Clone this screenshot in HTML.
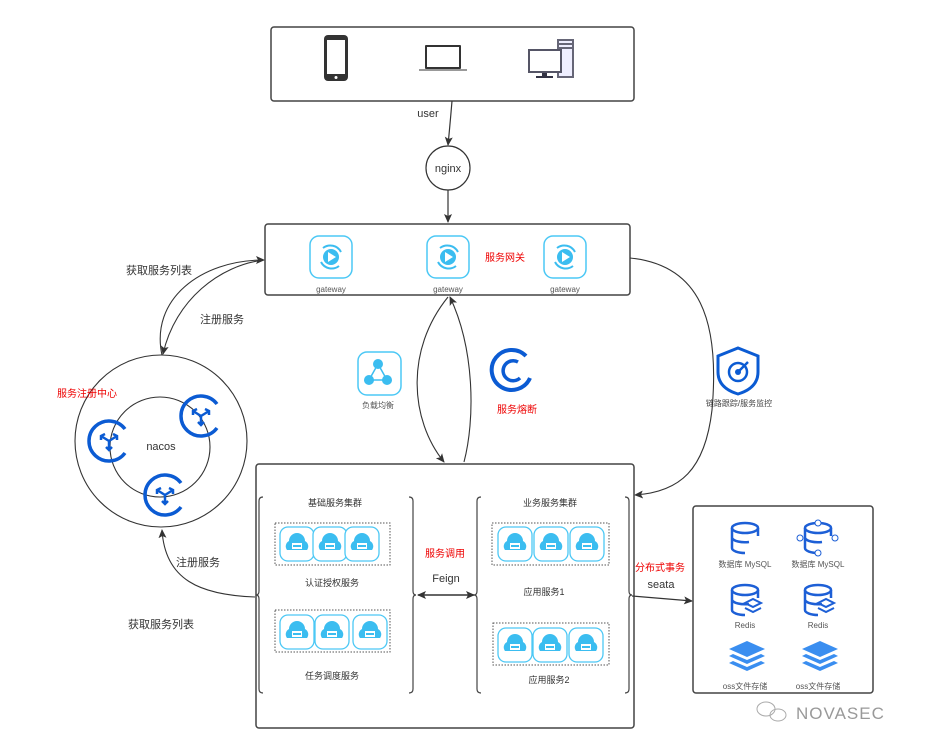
<!DOCTYPE html>
<html><head><meta charset="utf-8"><style>
body{margin:0;background:#fff}
text{font-family:"Liberation Sans","Noto Sans CJK SC",sans-serif}
</style></head><body>
<svg width="928" height="749" viewBox="0 0 928 749" xmlns="http://www.w3.org/2000/svg">
<defs>
<marker id="ar" markerWidth="10" markerHeight="10" refX="8" refY="5" orient="auto" markerUnits="userSpaceOnUse"><path d="M0,1 L9,5 L0,9 L2,5 Z" fill="#333"/></marker>
<marker id="al" markerWidth="10" markerHeight="10" refX="2" refY="5" orient="auto" markerUnits="userSpaceOnUse"><path d="M10,1 L1,5 L10,9 L8,5 Z" fill="#333"/></marker>
<g id="gw"><rect x="-21" y="-21" width="42" height="42" rx="9" fill="#fff" stroke="#4cc8f5" stroke-width="1.5"/><path d="M-8,-9 A12,12 0 0 1 10,-5 M8,9 A12,12 0 0 1 -10,5" fill="none" stroke="#3bbdf0" stroke-width="2"/><circle r="8" fill="#3bbdf0"/><path d="M-3,-5 L5,0 L-3,5Z" fill="#fff"/></g>
<g id="cl"><rect x="-17" y="-17" width="34" height="34" rx="8" fill="#fff" stroke="#4cc8f5" stroke-width="1.3"/><path d="M-10,6 A6,6 0 0 1 -8,-3 A8,8 0 0 1 8,-3 A6,6 0 0 1 10,6Z" fill="#3bbdf0"/><rect x="-5" y="-1" width="10" height="6" fill="#fff"/><rect x="-4" y="1" width="8" height="2" fill="#3bbdf0"/></g>
<g id="nc"><path d="M16,-12 A20,20 0 1 0 16,12" fill="none" stroke="#0b5bd3" stroke-width="3.5"/><path d="M0,0 L0,9 M0,0 L-8,-5 M0,0 L8,-5 M-3,6 L0,9 L3,6 M-8,-1 L-8,-5 L-4,-7 M8,-1 L8,-5 L4,-7" stroke="#0b5bd3" stroke-width="2.5" fill="none"/></g>
<g id="db"><ellipse cx="0" cy="-10" rx="13" ry="5" fill="none" stroke="#1d5fd6" stroke-width="2.5"/><path d="M-13,-10 V10 A13,5 0 0 0 0,15 M13,-10 V-2 M-13,0 A13,5 0 0 0 4,4" fill="none" stroke="#1d5fd6" stroke-width="2.5"/></g>
<g id="ly"><path d="M0,-16 L18,-8 L0,0 L-18,-8Z" fill="#3a8ef0"/><path d="M-18,-1 L0,7 L18,-1 L14,-3 L0,3 L-14,-3Z" fill="#3a8ef0"/><path d="M-18,6 L0,14 L18,6 L14,4 L0,10 L-14,4Z" fill="#3a8ef0"/></g>
</defs>

<!-- top user box -->
<rect x="271" y="27" width="363" height="74" rx="3" fill="#fff" stroke="#444" stroke-width="1.5"/>
<rect x="324" y="35" width="24" height="46" rx="4" fill="#333"/><rect x="327" y="40" width="18" height="34" fill="#fff"/><circle cx="336" cy="77.5" r="1.5" fill="#fff"/>
<rect x="425" y="45" width="36" height="24" rx="1" fill="#333"/><rect x="427" y="47" width="32" height="20" fill="#fff"/><rect x="419" y="69" width="48" height="2" fill="#999"/>
<rect x="557" y="39" width="17" height="39" fill="#667"/><rect x="559" y="41" width="13" height="35" fill="#eef"/><rect x="559" y="43" width="13" height="2" fill="#667"/><rect x="559" y="47" width="13" height="2" fill="#667"/>
<rect x="528" y="49" width="34" height="24" fill="#556"/><rect x="530" y="51" width="30" height="20" fill="#fff"/><rect x="542" y="73" width="5" height="4" fill="#334"/><rect x="536" y="76" width="17" height="2" fill="#334"/>

<text x="428" y="117" font-size="11" fill="#333" text-anchor="middle">user</text>
<path d="M452,101 Q450,125 448,145" fill="none" stroke="#333" stroke-width="1.2" marker-end="url(#ar)"/>
<circle cx="448" cy="168" r="22" fill="#fff" stroke="#333" stroke-width="1.2"/>
<text x="448" y="172" font-size="11" fill="#333" text-anchor="middle">nginx</text>
<path d="M448,190 L448,222" stroke="#333" stroke-width="1.2" marker-end="url(#ar)"/>

<!-- gateway box -->
<rect x="265" y="224" width="365" height="71" rx="3" fill="#fff" stroke="#444" stroke-width="1.5"/>
<use href="#gw" x="331" y="257"/><use href="#gw" x="448" y="257"/><use href="#gw" x="565" y="257"/>
<text x="331" y="292" font-size="8" fill="#555" text-anchor="middle">gateway</text>
<text x="448" y="292" font-size="8" fill="#555" text-anchor="middle">gateway</text>
<text x="565" y="292" font-size="8" fill="#555" text-anchor="middle">gateway</text>
<text x="505" y="261" font-size="10" fill="#e00" text-anchor="middle">服务网关</text>

<!-- left arcs -->
<path d="M162,355 C150,300 200,260 264,260" fill="none" stroke="#333" stroke-width="1.1" marker-end="url(#ar)"/>
<path d="M264,260 C220,265 175,300 163,354" fill="none" stroke="#333" stroke-width="1.1" marker-end="url(#ar)"/>
<text x="159" y="274" font-size="11" fill="#333" text-anchor="middle">获取服务列表</text>
<text x="222" y="323" font-size="11" fill="#333" text-anchor="middle">注册服务</text>

<!-- nacos -->
<circle cx="161" cy="441" r="86" fill="#fff" stroke="#333" stroke-width="1.1"/>
<circle cx="160" cy="447" r="50" fill="none" stroke="#333" stroke-width="1.1"/>
<text x="161" y="450" font-size="11" fill="#333" text-anchor="middle">nacos</text>
<text x="87" y="397" font-size="10" fill="#e00" text-anchor="middle">服务注册中心</text>
<use href="#nc" x="109" y="441"/><use href="#nc" x="201" y="416"/><use href="#nc" x="165" y="495"/>

<!-- bottom-left arrow -->
<path d="M255,597 C200,595 165,580 162,530" fill="none" stroke="#333" stroke-width="1.1" marker-end="url(#ar)"/>
<text x="198" y="566" font-size="11" fill="#333" text-anchor="middle">注册服务</text>
<text x="161" y="628" font-size="11" fill="#333" text-anchor="middle">获取服务列表</text>

<!-- middle icons -->
<rect x="358" y="352" width="43" height="43" rx="9" fill="#fff" stroke="#4cc8f5" stroke-width="1.5"/>
<circle cx="378" cy="364" r="5" fill="#3bbdf0"/><circle cx="369" cy="380" r="5" fill="#3bbdf0"/><circle cx="387" cy="380" r="5" fill="#3bbdf0"/><path d="M378,364 L369,380 L387,380Z" fill="none" stroke="#3bbdf0" stroke-width="1.5"/>
<text x="378" y="408" font-size="8" fill="#555" text-anchor="middle">负载均衡</text>
<path d="M526,356 A20,20 0 1 0 530,378" fill="none" stroke="#0b5bd3" stroke-width="4"/>
<path d="M518,362 A10,10 0 1 0 520,378" fill="none" stroke="#0b5bd3" stroke-width="3.5"/>
<text x="517" y="413" font-size="10" fill="#e00" text-anchor="middle">服务熔断</text>

<path d="M738,348 L758,356 L758,372 Q758,388 738,394 Q718,388 718,372 L718,356Z" fill="none" stroke="#0b5bd3" stroke-width="3"/>
<circle cx="738" cy="372" r="9" fill="none" stroke="#0b5bd3" stroke-width="2.5"/><circle cx="738" cy="372" r="3" fill="#0b5bd3"/><path d="M738,372 L748,362" stroke="#0b5bd3" stroke-width="2.5"/>
<text x="739" y="406" font-size="8" fill="#444" text-anchor="middle">链路跟踪/服务监控</text>

<!-- lens connectors -->
<path d="M448,297 C405,350 410,420 444,462" fill="none" stroke="#333" stroke-width="1.1" marker-end="url(#ar)"/>
<path d="M464,462 C475,420 475,350 450,297" fill="none" stroke="#333" stroke-width="1.1" marker-end="url(#ar)"/>

<!-- right curve -->
<path d="M630,258 C700,265 720,320 712,410 C705,470 680,492 635,495" fill="none" stroke="#333" stroke-width="1.1" marker-end="url(#ar)"/>

<!-- main box -->
<rect x="256" y="464" width="378" height="264" rx="3" fill="#fff" stroke="#444" stroke-width="1.5"/>
<path d="M263,497 Q259,497 259,501 V591 Q259,595 256,595 Q259,595 259,599 V689 Q259,693 263,693" fill="none" stroke="#444" stroke-width="1.2"/>
<path d="M409,497 Q413,497 413,501 V591 Q413,595 416,595 Q413,595 413,599 V689 Q413,693 409,693" fill="none" stroke="#444" stroke-width="1.2"/>
<path d="M481,497 Q477,497 477,501 V591 Q477,595 474,595 Q477,595 477,599 V689 Q477,693 481,693" fill="none" stroke="#444" stroke-width="1.2"/>
<path d="M625,497 Q629,497 629,501 V591 Q629,595 632,595 Q629,595 629,599 V689 Q629,693 625,693" fill="none" stroke="#444" stroke-width="1.2"/>
<text x="335" y="506" font-size="9" fill="#333" text-anchor="middle">基础服务集群</text>
<text x="550" y="506" font-size="9" fill="#333" text-anchor="middle">业务服务集群</text>
<rect x="275" y="523" width="115" height="42" fill="none" stroke="#555" stroke-dasharray="1.5,1.5"/>
<rect x="275" y="610" width="115" height="42" fill="none" stroke="#555" stroke-dasharray="1.5,1.5"/>
<rect x="492" y="523" width="117" height="42" fill="none" stroke="#555" stroke-dasharray="1.5,1.5"/>
<rect x="493" y="623" width="116" height="42" fill="none" stroke="#555" stroke-dasharray="1.5,1.5"/>
<use href="#cl" x="297" y="544"/><use href="#cl" x="330" y="544"/><use href="#cl" x="362" y="544"/>
<use href="#cl" x="297" y="632"/><use href="#cl" x="332" y="632"/><use href="#cl" x="370" y="632"/>
<use href="#cl" x="515" y="544"/><use href="#cl" x="551" y="544"/><use href="#cl" x="587" y="544"/>
<use href="#cl" x="515" y="645"/><use href="#cl" x="550" y="645"/><use href="#cl" x="586" y="645"/>
<text x="332" y="586" font-size="9" fill="#333" text-anchor="middle">认证授权服务</text>
<text x="332" y="679" font-size="9" fill="#333" text-anchor="middle">任务调度服务</text>
<text x="544" y="595" font-size="9" fill="#333" text-anchor="middle">应用服务1</text>
<text x="549" y="683" font-size="9" fill="#333" text-anchor="middle">应用服务2</text>
<text x="445" y="557" font-size="10" fill="#e00" text-anchor="middle">服务调用</text>
<text x="446" y="582" font-size="11" fill="#333" text-anchor="middle">Feign</text>
<path d="M418,595 L474,595" stroke="#333" stroke-width="1.6" marker-start="url(#al)" marker-end="url(#ar)"/>

<text x="660" y="571" font-size="10" fill="#e00" text-anchor="middle">分布式事务</text>
<text x="661" y="588" font-size="11" fill="#333" text-anchor="middle">seata</text>
<path d="M632,596 L692,601" stroke="#333" stroke-width="1.2" marker-end="url(#ar)"/>

<!-- right box -->
<rect x="693" y="506" width="180" height="187" rx="3" fill="#fff" stroke="#444" stroke-width="1.5"/>
<use href="#db" x="745" y="538"/><use href="#db" x="818" y="538"/>
<circle cx="818" cy="523" r="3" fill="#fff" stroke="#1d5fd6"/><circle cx="800" cy="538" r="3" fill="#fff" stroke="#1d5fd6"/><circle cx="835" cy="538" r="3" fill="#fff" stroke="#1d5fd6"/><circle cx="818" cy="553" r="3" fill="#fff" stroke="#1d5fd6"/>
<text x="745" y="567" font-size="8" fill="#555" text-anchor="middle">数据库 MySQL</text>
<text x="818" y="567" font-size="8" fill="#555" text-anchor="middle">数据库 MySQL</text>
<use href="#db" x="745" y="600"/><use href="#db" x="818" y="600"/>
<path d="M745,603 L753,599 L761,603 L753,607Z M745,608 L753,612 L761,608" fill="none" stroke="#1d5fd6" stroke-width="2"/>
<path d="M818,603 L826,599 L834,603 L826,607Z M818,608 L826,612 L834,608" fill="none" stroke="#1d5fd6" stroke-width="2"/>
<text x="745" y="628" font-size="8" fill="#555" text-anchor="middle">Redis</text>
<text x="818" y="628" font-size="8" fill="#555" text-anchor="middle">Redis</text>
<use href="#ly" x="747" y="657"/><use href="#ly" x="820" y="657"/>
<text x="745" y="689" font-size="8" fill="#555" text-anchor="middle">oss文件存储</text>
<text x="818" y="689" font-size="8" fill="#555" text-anchor="middle">oss文件存储</text>

<!-- watermark -->
<ellipse cx="766" cy="709" rx="9" ry="7" fill="none" stroke="#aaa"/><ellipse cx="778" cy="715" rx="8" ry="6" fill="none" stroke="#aaa"/>
<text x="796" y="719" font-size="17" fill="#999" letter-spacing="1">NOVASEC</text>
</svg>
</body></html>
